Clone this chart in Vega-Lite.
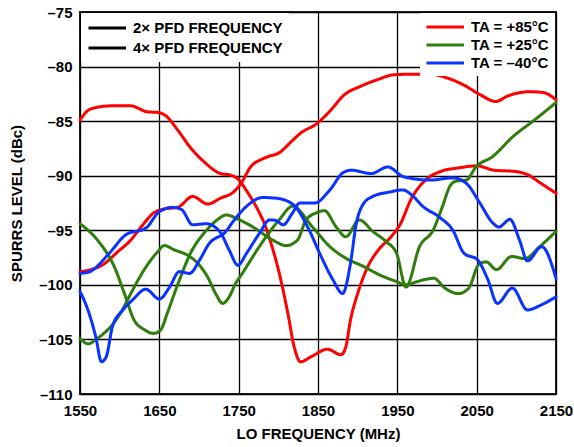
{
  "$schema": "https://vega.github.io/schema/vega-lite/v6.json",
  "width": 476,
  "height": 382,
  "autosize": "none",
  "padding": {"left": 80, "top": 12, "right": 18, "bottom": 53},
  "background": "white",
  "config": {
    "font": "Liberation Sans",
    "view": {"stroke": "#222", "strokeWidth": 2},
    "axis": {
      "labelFont": "Liberation Sans", "labelFontWeight": "bold", "labelFontSize": 15, "labelColor": "#000",
      "titleFont": "Liberation Sans", "titleFontWeight": "bold", "titleFontSize": 15, "titleColor": "#000",
      "grid": true, "gridColor": "#000", "gridWidth": 1.3, "gridOpacity": 1,
      "domain": false, "ticks": false, "labelFlush": false
    },
    "legend": {
      "labelFont": "Liberation Sans", "labelFontWeight": "bold", "labelFontSize": 15, "labelColor": "#000",
      "fillColor": "white", "symbolType": "M-1,0H4", "symbolSize": 225, "symbolStrokeWidth": 3,
      "labelOffset": 28, "rowPadding": 2, "padding": 6, "offset": 1, "title": null, "labelLimit": 300
    }
  },
  "data": {
    "values": [
      {"f":1550,"v":-84.9,"t":"TA = +85°C","p":"2× PFD FREQUENCY"},
      {"f":1563,"v":-83.9,"t":"TA = +85°C","p":"2× PFD FREQUENCY"},
      {"f":1589,"v":-83.6,"t":"TA = +85°C","p":"2× PFD FREQUENCY"},
      {"f":1614,"v":-83.6,"t":"TA = +85°C","p":"2× PFD FREQUENCY"},
      {"f":1635,"v":-84.15,"t":"TA = +85°C","p":"2× PFD FREQUENCY"},
      {"f":1648,"v":-84.2,"t":"TA = +85°C","p":"2× PFD FREQUENCY"},
      {"f":1658,"v":-84.5,"t":"TA = +85°C","p":"2× PFD FREQUENCY"},
      {"f":1673,"v":-85.8,"t":"TA = +85°C","p":"2× PFD FREQUENCY"},
      {"f":1690,"v":-87.5,"t":"TA = +85°C","p":"2× PFD FREQUENCY"},
      {"f":1706,"v":-88.7,"t":"TA = +85°C","p":"2× PFD FREQUENCY"},
      {"f":1727,"v":-89.8,"t":"TA = +85°C","p":"2× PFD FREQUENCY"},
      {"f":1740,"v":-89.95,"t":"TA = +85°C","p":"2× PFD FREQUENCY"},
      {"f":1749,"v":-90.3,"t":"TA = +85°C","p":"2× PFD FREQUENCY"},
      {"f":1761,"v":-91.5,"t":"TA = +85°C","p":"2× PFD FREQUENCY"},
      {"f":1774,"v":-93.1,"t":"TA = +85°C","p":"2× PFD FREQUENCY"},
      {"f":1783,"v":-94.5,"t":"TA = +85°C","p":"2× PFD FREQUENCY"},
      {"f":1790,"v":-96.0,"t":"TA = +85°C","p":"2× PFD FREQUENCY"},
      {"f":1803,"v":-99.5,"t":"TA = +85°C","p":"2× PFD FREQUENCY"},
      {"f":1812,"v":-102.6,"t":"TA = +85°C","p":"2× PFD FREQUENCY"},
      {"f":1820,"v":-105.7,"t":"TA = +85°C","p":"2× PFD FREQUENCY"},
      {"f":1828,"v":-107.05,"t":"TA = +85°C","p":"2× PFD FREQUENCY"},
      {"f":1841,"v":-106.6,"t":"TA = +85°C","p":"2× PFD FREQUENCY"},
      {"f":1862,"v":-105.9,"t":"TA = +85°C","p":"2× PFD FREQUENCY"},
      {"f":1879,"v":-106.4,"t":"TA = +85°C","p":"2× PFD FREQUENCY"},
      {"f":1885,"v":-105.7,"t":"TA = +85°C","p":"2× PFD FREQUENCY"},
      {"f":1891,"v":-103.2,"t":"TA = +85°C","p":"2× PFD FREQUENCY"},
      {"f":1900,"v":-100.8,"t":"TA = +85°C","p":"2× PFD FREQUENCY"},
      {"f":1913,"v":-98.3,"t":"TA = +85°C","p":"2× PFD FREQUENCY"},
      {"f":1925,"v":-96.9,"t":"TA = +85°C","p":"2× PFD FREQUENCY"},
      {"f":1942,"v":-95.6,"t":"TA = +85°C","p":"2× PFD FREQUENCY"},
      {"f":1954,"v":-94.4,"t":"TA = +85°C","p":"2× PFD FREQUENCY"},
      {"f":1967,"v":-92.2,"t":"TA = +85°C","p":"2× PFD FREQUENCY"},
      {"f":1984,"v":-90.5,"t":"TA = +85°C","p":"2× PFD FREQUENCY"},
      {"f":2005,"v":-89.6,"t":"TA = +85°C","p":"2× PFD FREQUENCY"},
      {"f":2026,"v":-89.3,"t":"TA = +85°C","p":"2× PFD FREQUENCY"},
      {"f":2051,"v":-89.1,"t":"TA = +85°C","p":"2× PFD FREQUENCY"},
      {"f":2072,"v":-89.5,"t":"TA = +85°C","p":"2× PFD FREQUENCY"},
      {"f":2097,"v":-89.6,"t":"TA = +85°C","p":"2× PFD FREQUENCY"},
      {"f":2114,"v":-89.9,"t":"TA = +85°C","p":"2× PFD FREQUENCY"},
      {"f":2131,"v":-90.7,"t":"TA = +85°C","p":"2× PFD FREQUENCY"},
      {"f":2150,"v":-91.6,"t":"TA = +85°C","p":"2× PFD FREQUENCY"},

      {"f":1550,"v":-98.8,"t":"TA = +85°C","p":"4× PFD FREQUENCY"},
      {"f":1564,"v":-98.6,"t":"TA = +85°C","p":"4× PFD FREQUENCY"},
      {"f":1580,"v":-98.1,"t":"TA = +85°C","p":"4× PFD FREQUENCY"},
      {"f":1597,"v":-97.0,"t":"TA = +85°C","p":"4× PFD FREQUENCY"},
      {"f":1614,"v":-95.9,"t":"TA = +85°C","p":"4× PFD FREQUENCY"},
      {"f":1627,"v":-94.7,"t":"TA = +85°C","p":"4× PFD FREQUENCY"},
      {"f":1643,"v":-93.4,"t":"TA = +85°C","p":"4× PFD FREQUENCY"},
      {"f":1656,"v":-93.05,"t":"TA = +85°C","p":"4× PFD FREQUENCY"},
      {"f":1673,"v":-92.9,"t":"TA = +85°C","p":"4× PFD FREQUENCY"},
      {"f":1692,"v":-91.9,"t":"TA = +85°C","p":"4× PFD FREQUENCY"},
      {"f":1711,"v":-92.6,"t":"TA = +85°C","p":"4× PFD FREQUENCY"},
      {"f":1727,"v":-92.06,"t":"TA = +85°C","p":"4× PFD FREQUENCY"},
      {"f":1744,"v":-91.46,"t":"TA = +85°C","p":"4× PFD FREQUENCY"},
      {"f":1753,"v":-90.7,"t":"TA = +85°C","p":"4× PFD FREQUENCY"},
      {"f":1765,"v":-89.2,"t":"TA = +85°C","p":"4× PFD FREQUENCY"},
      {"f":1782,"v":-88.4,"t":"TA = +85°C","p":"4× PFD FREQUENCY"},
      {"f":1803,"v":-87.8,"t":"TA = +85°C","p":"4× PFD FREQUENCY"},
      {"f":1816,"v":-86.9,"t":"TA = +85°C","p":"4× PFD FREQUENCY"},
      {"f":1828,"v":-86.1,"t":"TA = +85°C","p":"4× PFD FREQUENCY"},
      {"f":1849,"v":-85.2,"t":"TA = +85°C","p":"4× PFD FREQUENCY"},
      {"f":1866,"v":-84.0,"t":"TA = +85°C","p":"4× PFD FREQUENCY"},
      {"f":1883,"v":-82.6,"t":"TA = +85°C","p":"4× PFD FREQUENCY"},
      {"f":1904,"v":-81.8,"t":"TA = +85°C","p":"4× PFD FREQUENCY"},
      {"f":1925,"v":-81.2,"t":"TA = +85°C","p":"4× PFD FREQUENCY"},
      {"f":1946,"v":-80.75,"t":"TA = +85°C","p":"4× PFD FREQUENCY"},
      {"f":1970,"v":-80.7,"t":"TA = +85°C","p":"4× PFD FREQUENCY"},
      {"f":1992,"v":-80.7,"t":"TA = +85°C","p":"4× PFD FREQUENCY"},
      {"f":2013,"v":-81.05,"t":"TA = +85°C","p":"4× PFD FREQUENCY"},
      {"f":2034,"v":-81.7,"t":"TA = +85°C","p":"4× PFD FREQUENCY"},
      {"f":2055,"v":-82.6,"t":"TA = +85°C","p":"4× PFD FREQUENCY"},
      {"f":2074,"v":-83.2,"t":"TA = +85°C","p":"4× PFD FREQUENCY"},
      {"f":2089,"v":-82.7,"t":"TA = +85°C","p":"4× PFD FREQUENCY"},
      {"f":2118,"v":-82.3,"t":"TA = +85°C","p":"4× PFD FREQUENCY"},
      {"f":2135,"v":-82.4,"t":"TA = +85°C","p":"4× PFD FREQUENCY"},
      {"f":2150,"v":-83.05,"t":"TA = +85°C","p":"4× PFD FREQUENCY"},

      {"f":1550,"v":-94.4,"t":"TA = +25°C","p":"2× PFD FREQUENCY"},
      {"f":1572,"v":-95.9,"t":"TA = +25°C","p":"2× PFD FREQUENCY"},
      {"f":1593,"v":-98.3,"t":"TA = +25°C","p":"2× PFD FREQUENCY"},
      {"f":1606,"v":-100.8,"t":"TA = +25°C","p":"2× PFD FREQUENCY"},
      {"f":1618,"v":-103.2,"t":"TA = +25°C","p":"2× PFD FREQUENCY"},
      {"f":1631,"v":-104.1,"t":"TA = +25°C","p":"2× PFD FREQUENCY"},
      {"f":1643,"v":-104.45,"t":"TA = +25°C","p":"2× PFD FREQUENCY"},
      {"f":1652,"v":-104.1,"t":"TA = +25°C","p":"2× PFD FREQUENCY"},
      {"f":1660,"v":-102.6,"t":"TA = +25°C","p":"2× PFD FREQUENCY"},
      {"f":1673,"v":-100.0,"t":"TA = +25°C","p":"2× PFD FREQUENCY"},
      {"f":1690,"v":-97.0,"t":"TA = +25°C","p":"2× PFD FREQUENCY"},
      {"f":1707,"v":-95.2,"t":"TA = +25°C","p":"2× PFD FREQUENCY"},
      {"f":1723,"v":-94.05,"t":"TA = +25°C","p":"2× PFD FREQUENCY"},
      {"f":1734,"v":-93.6,"t":"TA = +25°C","p":"2× PFD FREQUENCY"},
      {"f":1751,"v":-94.05,"t":"TA = +25°C","p":"2× PFD FREQUENCY"},
      {"f":1768,"v":-94.7,"t":"TA = +25°C","p":"2× PFD FREQUENCY"},
      {"f":1793,"v":-95.9,"t":"TA = +25°C","p":"2× PFD FREQUENCY"},
      {"f":1810,"v":-96.4,"t":"TA = +25°C","p":"2× PFD FREQUENCY"},
      {"f":1824,"v":-95.9,"t":"TA = +25°C","p":"2× PFD FREQUENCY"},
      {"f":1835,"v":-94.05,"t":"TA = +25°C","p":"2× PFD FREQUENCY"},
      {"f":1848,"v":-93.4,"t":"TA = +25°C","p":"2× PFD FREQUENCY"},
      {"f":1858,"v":-93.2,"t":"TA = +25°C","p":"2× PFD FREQUENCY"},
      {"f":1873,"v":-94.7,"t":"TA = +25°C","p":"2× PFD FREQUENCY"},
      {"f":1885,"v":-95.6,"t":"TA = +25°C","p":"2× PFD FREQUENCY"},
      {"f":1902,"v":-94.05,"t":"TA = +25°C","p":"2× PFD FREQUENCY"},
      {"f":1919,"v":-95.1,"t":"TA = +25°C","p":"2× PFD FREQUENCY"},
      {"f":1936,"v":-96.05,"t":"TA = +25°C","p":"2× PFD FREQUENCY"},
      {"f":1949,"v":-97.1,"t":"TA = +25°C","p":"2× PFD FREQUENCY"},
      {"f":1961,"v":-100.2,"t":"TA = +25°C","p":"2× PFD FREQUENCY"},
      {"f":1978,"v":-96.5,"t":"TA = +25°C","p":"2× PFD FREQUENCY"},
      {"f":1995,"v":-95.0,"t":"TA = +25°C","p":"2× PFD FREQUENCY"},
      {"f":2007,"v":-92.8,"t":"TA = +25°C","p":"2× PFD FREQUENCY"},
      {"f":2016,"v":-91.0,"t":"TA = +25°C","p":"2× PFD FREQUENCY"},
      {"f":2024,"v":-90.5,"t":"TA = +25°C","p":"2× PFD FREQUENCY"},
      {"f":2037,"v":-90.4,"t":"TA = +25°C","p":"2× PFD FREQUENCY"},
      {"f":2049,"v":-89.2,"t":"TA = +25°C","p":"2× PFD FREQUENCY"},
      {"f":2070,"v":-88.25,"t":"TA = +25°C","p":"2× PFD FREQUENCY"},
      {"f":2096,"v":-86.4,"t":"TA = +25°C","p":"2× PFD FREQUENCY"},
      {"f":2121,"v":-85.0,"t":"TA = +25°C","p":"2× PFD FREQUENCY"},
      {"f":2150,"v":-83.3,"t":"TA = +25°C","p":"2× PFD FREQUENCY"},

      {"f":1550,"v":-104.9,"t":"TA = +25°C","p":"4× PFD FREQUENCY"},
      {"f":1560,"v":-105.4,"t":"TA = +25°C","p":"4× PFD FREQUENCY"},
      {"f":1572,"v":-104.9,"t":"TA = +25°C","p":"4× PFD FREQUENCY"},
      {"f":1589,"v":-103.8,"t":"TA = +25°C","p":"4× PFD FREQUENCY"},
      {"f":1601,"v":-102.6,"t":"TA = +25°C","p":"4× PFD FREQUENCY"},
      {"f":1614,"v":-100.8,"t":"TA = +25°C","p":"4× PFD FREQUENCY"},
      {"f":1631,"v":-98.6,"t":"TA = +25°C","p":"4× PFD FREQUENCY"},
      {"f":1648,"v":-96.96,"t":"TA = +25°C","p":"4× PFD FREQUENCY"},
      {"f":1656,"v":-96.4,"t":"TA = +25°C","p":"4× PFD FREQUENCY"},
      {"f":1669,"v":-96.8,"t":"TA = +25°C","p":"4× PFD FREQUENCY"},
      {"f":1686,"v":-97.3,"t":"TA = +25°C","p":"4× PFD FREQUENCY"},
      {"f":1698,"v":-98.0,"t":"TA = +25°C","p":"4× PFD FREQUENCY"},
      {"f":1711,"v":-99.3,"t":"TA = +25°C","p":"4× PFD FREQUENCY"},
      {"f":1721,"v":-100.8,"t":"TA = +25°C","p":"4× PFD FREQUENCY"},
      {"f":1730,"v":-101.7,"t":"TA = +25°C","p":"4× PFD FREQUENCY"},
      {"f":1738,"v":-101.1,"t":"TA = +25°C","p":"4× PFD FREQUENCY"},
      {"f":1746,"v":-99.9,"t":"TA = +25°C","p":"4× PFD FREQUENCY"},
      {"f":1755,"v":-98.9,"t":"TA = +25°C","p":"4× PFD FREQUENCY"},
      {"f":1776,"v":-96.5,"t":"TA = +25°C","p":"4× PFD FREQUENCY"},
      {"f":1801,"v":-94.05,"t":"TA = +25°C","p":"4× PFD FREQUENCY"},
      {"f":1818,"v":-92.8,"t":"TA = +25°C","p":"4× PFD FREQUENCY"},
      {"f":1843,"v":-94.7,"t":"TA = +25°C","p":"4× PFD FREQUENCY"},
      {"f":1865,"v":-96.5,"t":"TA = +25°C","p":"4× PFD FREQUENCY"},
      {"f":1886,"v":-97.6,"t":"TA = +25°C","p":"4× PFD FREQUENCY"},
      {"f":1907,"v":-98.3,"t":"TA = +25°C","p":"4× PFD FREQUENCY"},
      {"f":1928,"v":-99.1,"t":"TA = +25°C","p":"4× PFD FREQUENCY"},
      {"f":1949,"v":-99.7,"t":"TA = +25°C","p":"4× PFD FREQUENCY"},
      {"f":1961,"v":-100.0,"t":"TA = +25°C","p":"4× PFD FREQUENCY"},
      {"f":1975,"v":-99.7,"t":"TA = +25°C","p":"4× PFD FREQUENCY"},
      {"f":1996,"v":-99.4,"t":"TA = +25°C","p":"4× PFD FREQUENCY"},
      {"f":2010,"v":-100.3,"t":"TA = +25°C","p":"4× PFD FREQUENCY"},
      {"f":2027,"v":-100.8,"t":"TA = +25°C","p":"4× PFD FREQUENCY"},
      {"f":2040,"v":-100.3,"t":"TA = +25°C","p":"4× PFD FREQUENCY"},
      {"f":2053,"v":-98.1,"t":"TA = +25°C","p":"4× PFD FREQUENCY"},
      {"f":2062,"v":-97.9,"t":"TA = +25°C","p":"4× PFD FREQUENCY"},
      {"f":2075,"v":-98.6,"t":"TA = +25°C","p":"4× PFD FREQUENCY"},
      {"f":2094,"v":-97.4,"t":"TA = +25°C","p":"4× PFD FREQUENCY"},
      {"f":2111,"v":-97.6,"t":"TA = +25°C","p":"4× PFD FREQUENCY"},
      {"f":2128,"v":-96.6,"t":"TA = +25°C","p":"4× PFD FREQUENCY"},
      {"f":2150,"v":-95.1,"t":"TA = +25°C","p":"4× PFD FREQUENCY"},

      {"f":1550,"v":-98.95,"t":"TA = –40°C","p":"2× PFD FREQUENCY"},
      {"f":1562,"v":-98.8,"t":"TA = –40°C","p":"2× PFD FREQUENCY"},
      {"f":1587,"v":-97.1,"t":"TA = –40°C","p":"2× PFD FREQUENCY"},
      {"f":1608,"v":-95.4,"t":"TA = –40°C","p":"2× PFD FREQUENCY"},
      {"f":1633,"v":-94.8,"t":"TA = –40°C","p":"2× PFD FREQUENCY"},
      {"f":1650,"v":-93.3,"t":"TA = –40°C","p":"2× PFD FREQUENCY"},
      {"f":1667,"v":-92.9,"t":"TA = –40°C","p":"2× PFD FREQUENCY"},
      {"f":1678,"v":-93.1,"t":"TA = –40°C","p":"2× PFD FREQUENCY"},
      {"f":1692,"v":-94.5,"t":"TA = –40°C","p":"2× PFD FREQUENCY"},
      {"f":1709,"v":-94.4,"t":"TA = –40°C","p":"2× PFD FREQUENCY"},
      {"f":1726,"v":-95.1,"t":"TA = –40°C","p":"2× PFD FREQUENCY"},
      {"f":1738,"v":-96.8,"t":"TA = –40°C","p":"2× PFD FREQUENCY"},
      {"f":1749,"v":-98.2,"t":"TA = –40°C","p":"2× PFD FREQUENCY"},
      {"f":1760,"v":-97.1,"t":"TA = –40°C","p":"2× PFD FREQUENCY"},
      {"f":1776,"v":-95.3,"t":"TA = –40°C","p":"2× PFD FREQUENCY"},
      {"f":1789,"v":-94.05,"t":"TA = –40°C","p":"2× PFD FREQUENCY"},
      {"f":1797,"v":-94.1,"t":"TA = –40°C","p":"2× PFD FREQUENCY"},
      {"f":1806,"v":-94.5,"t":"TA = –40°C","p":"2× PFD FREQUENCY"},
      {"f":1818,"v":-93.4,"t":"TA = –40°C","p":"2× PFD FREQUENCY"},
      {"f":1827,"v":-92.5,"t":"TA = –40°C","p":"2× PFD FREQUENCY"},
      {"f":1846,"v":-92.5,"t":"TA = –40°C","p":"2× PFD FREQUENCY"},
      {"f":1865,"v":-91.3,"t":"TA = –40°C","p":"2× PFD FREQUENCY"},
      {"f":1882,"v":-89.7,"t":"TA = –40°C","p":"2× PFD FREQUENCY"},
      {"f":1892,"v":-89.5,"t":"TA = –40°C","p":"2× PFD FREQUENCY"},
      {"f":1917,"v":-89.8,"t":"TA = –40°C","p":"2× PFD FREQUENCY"},
      {"f":1938,"v":-89.2,"t":"TA = –40°C","p":"2× PFD FREQUENCY"},
      {"f":1958,"v":-90.1,"t":"TA = –40°C","p":"2× PFD FREQUENCY"},
      {"f":1991,"v":-90.4,"t":"TA = –40°C","p":"2× PFD FREQUENCY"},
      {"f":2020,"v":-90.2,"t":"TA = –40°C","p":"2× PFD FREQUENCY"},
      {"f":2037,"v":-90.7,"t":"TA = –40°C","p":"2× PFD FREQUENCY"},
      {"f":2054,"v":-92.5,"t":"TA = –40°C","p":"2× PFD FREQUENCY"},
      {"f":2070,"v":-94.3,"t":"TA = –40°C","p":"2× PFD FREQUENCY"},
      {"f":2078,"v":-94.7,"t":"TA = –40°C","p":"2× PFD FREQUENCY"},
      {"f":2092,"v":-94.0,"t":"TA = –40°C","p":"2× PFD FREQUENCY"},
      {"f":2104,"v":-95.9,"t":"TA = –40°C","p":"2× PFD FREQUENCY"},
      {"f":2114,"v":-97.8,"t":"TA = –40°C","p":"2× PFD FREQUENCY"},
      {"f":2132,"v":-96.5,"t":"TA = –40°C","p":"2× PFD FREQUENCY"},
      {"f":2150,"v":-99.4,"t":"TA = –40°C","p":"2× PFD FREQUENCY"},

      {"f":1550,"v":-100.6,"t":"TA = –40°C","p":"4× PFD FREQUENCY"},
      {"f":1560,"v":-102.3,"t":"TA = –40°C","p":"4× PFD FREQUENCY"},
      {"f":1570,"v":-104.8,"t":"TA = –40°C","p":"4× PFD FREQUENCY"},
      {"f":1577,"v":-107.05,"t":"TA = –40°C","p":"4× PFD FREQUENCY"},
      {"f":1583,"v":-106.6,"t":"TA = –40°C","p":"4× PFD FREQUENCY"},
      {"f":1591,"v":-103.8,"t":"TA = –40°C","p":"4× PFD FREQUENCY"},
      {"f":1604,"v":-102.3,"t":"TA = –40°C","p":"4× PFD FREQUENCY"},
      {"f":1616,"v":-101.4,"t":"TA = –40°C","p":"4× PFD FREQUENCY"},
      {"f":1633,"v":-100.4,"t":"TA = –40°C","p":"4× PFD FREQUENCY"},
      {"f":1650,"v":-101.3,"t":"TA = –40°C","p":"4× PFD FREQUENCY"},
      {"f":1663,"v":-100.2,"t":"TA = –40°C","p":"4× PFD FREQUENCY"},
      {"f":1675,"v":-98.8,"t":"TA = –40°C","p":"4× PFD FREQUENCY"},
      {"f":1688,"v":-98.95,"t":"TA = –40°C","p":"4× PFD FREQUENCY"},
      {"f":1701,"v":-97.7,"t":"TA = –40°C","p":"4× PFD FREQUENCY"},
      {"f":1712,"v":-96.3,"t":"TA = –40°C","p":"4× PFD FREQUENCY"},
      {"f":1734,"v":-95.1,"t":"TA = –40°C","p":"4× PFD FREQUENCY"},
      {"f":1743,"v":-94.2,"t":"TA = –40°C","p":"4× PFD FREQUENCY"},
      {"f":1760,"v":-92.8,"t":"TA = –40°C","p":"4× PFD FREQUENCY"},
      {"f":1780,"v":-92.0,"t":"TA = –40°C","p":"4× PFD FREQUENCY"},
      {"f":1797,"v":-92.06,"t":"TA = –40°C","p":"4× PFD FREQUENCY"},
      {"f":1818,"v":-92.6,"t":"TA = –40°C","p":"4× PFD FREQUENCY"},
      {"f":1839,"v":-95.0,"t":"TA = –40°C","p":"4× PFD FREQUENCY"},
      {"f":1852,"v":-97.1,"t":"TA = –40°C","p":"4× PFD FREQUENCY"},
      {"f":1869,"v":-99.56,"t":"TA = –40°C","p":"4× PFD FREQUENCY"},
      {"f":1881,"v":-100.8,"t":"TA = –40°C","p":"4× PFD FREQUENCY"},
      {"f":1891,"v":-98.0,"t":"TA = –40°C","p":"4× PFD FREQUENCY"},
      {"f":1898,"v":-94.5,"t":"TA = –40°C","p":"4× PFD FREQUENCY"},
      {"f":1907,"v":-92.6,"t":"TA = –40°C","p":"4× PFD FREQUENCY"},
      {"f":1919,"v":-91.9,"t":"TA = –40°C","p":"4× PFD FREQUENCY"},
      {"f":1940,"v":-91.5,"t":"TA = –40°C","p":"4× PFD FREQUENCY"},
      {"f":1957,"v":-91.3,"t":"TA = –40°C","p":"4× PFD FREQUENCY"},
      {"f":1970,"v":-91.9,"t":"TA = –40°C","p":"4× PFD FREQUENCY"},
      {"f":1982,"v":-92.8,"t":"TA = –40°C","p":"4× PFD FREQUENCY"},
      {"f":2003,"v":-93.8,"t":"TA = –40°C","p":"4× PFD FREQUENCY"},
      {"f":2020,"v":-95.0,"t":"TA = –40°C","p":"4× PFD FREQUENCY"},
      {"f":2034,"v":-97.1,"t":"TA = –40°C","p":"4× PFD FREQUENCY"},
      {"f":2051,"v":-97.7,"t":"TA = –40°C","p":"4× PFD FREQUENCY"},
      {"f":2064,"v":-99.5,"t":"TA = –40°C","p":"4× PFD FREQUENCY"},
      {"f":2076,"v":-101.7,"t":"TA = –40°C","p":"4× PFD FREQUENCY"},
      {"f":2095,"v":-100.3,"t":"TA = –40°C","p":"4× PFD FREQUENCY"},
      {"f":2114,"v":-102.3,"t":"TA = –40°C","p":"4× PFD FREQUENCY"},
      {"f":2131,"v":-101.85,"t":"TA = –40°C","p":"4× PFD FREQUENCY"},
      {"f":2150,"v":-101.1,"t":"TA = –40°C","p":"4× PFD FREQUENCY"}
    ]
  },
  "mark": {"type": "line", "interpolate": "monotone", "strokeWidth": 3, "strokeCap": "round", "strokeJoin": "round"},
  "encoding": {
    "x": {
      "field": "f", "type": "quantitative",
      "scale": {"domain": [1550, 2150], "nice": false, "zero": false},
      "axis": {"values": [1550, 1650, 1750, 1850, 1950, 2050, 2150], "title": "LO FREQUENCY (MHz)", "labelPadding": 9, "titlePadding": 8, "format": "d"}
    },
    "y": {
      "field": "v", "type": "quantitative",
      "scale": {"domain": [-110, -75], "nice": false, "zero": false},
      "axis": {"values": [-110, -105, -100, -95, -90, -85, -80, -75], "title": "SPURRS LEVEL (dBc)", "labelPadding": 8, "titlePadding": 14, "labelExpr": "'–' + abs(datum.value)"}
    },
    "color": {
      "field": "t", "type": "nominal",
      "scale": {"domain": ["TA = +85°C", "TA = +25°C", "TA = –40°C"], "range": ["#ff0000", "#2f7d0d", "#0a33ff"]},
      "legend": {"orient": "top-right", "padding": 5, "rowPadding": 1}
    },
    "strokeDash": {
      "field": "p", "type": "nominal",
      "scale": {"domain": ["2× PFD FREQUENCY", "4× PFD FREQUENCY"], "range": [[1, 0], [1, 0]]},
      "legend": {"orient": "top-left", "symbolStrokeColor": "black", "padding": 6, "rowPadding": 3}
    }
  }
}
